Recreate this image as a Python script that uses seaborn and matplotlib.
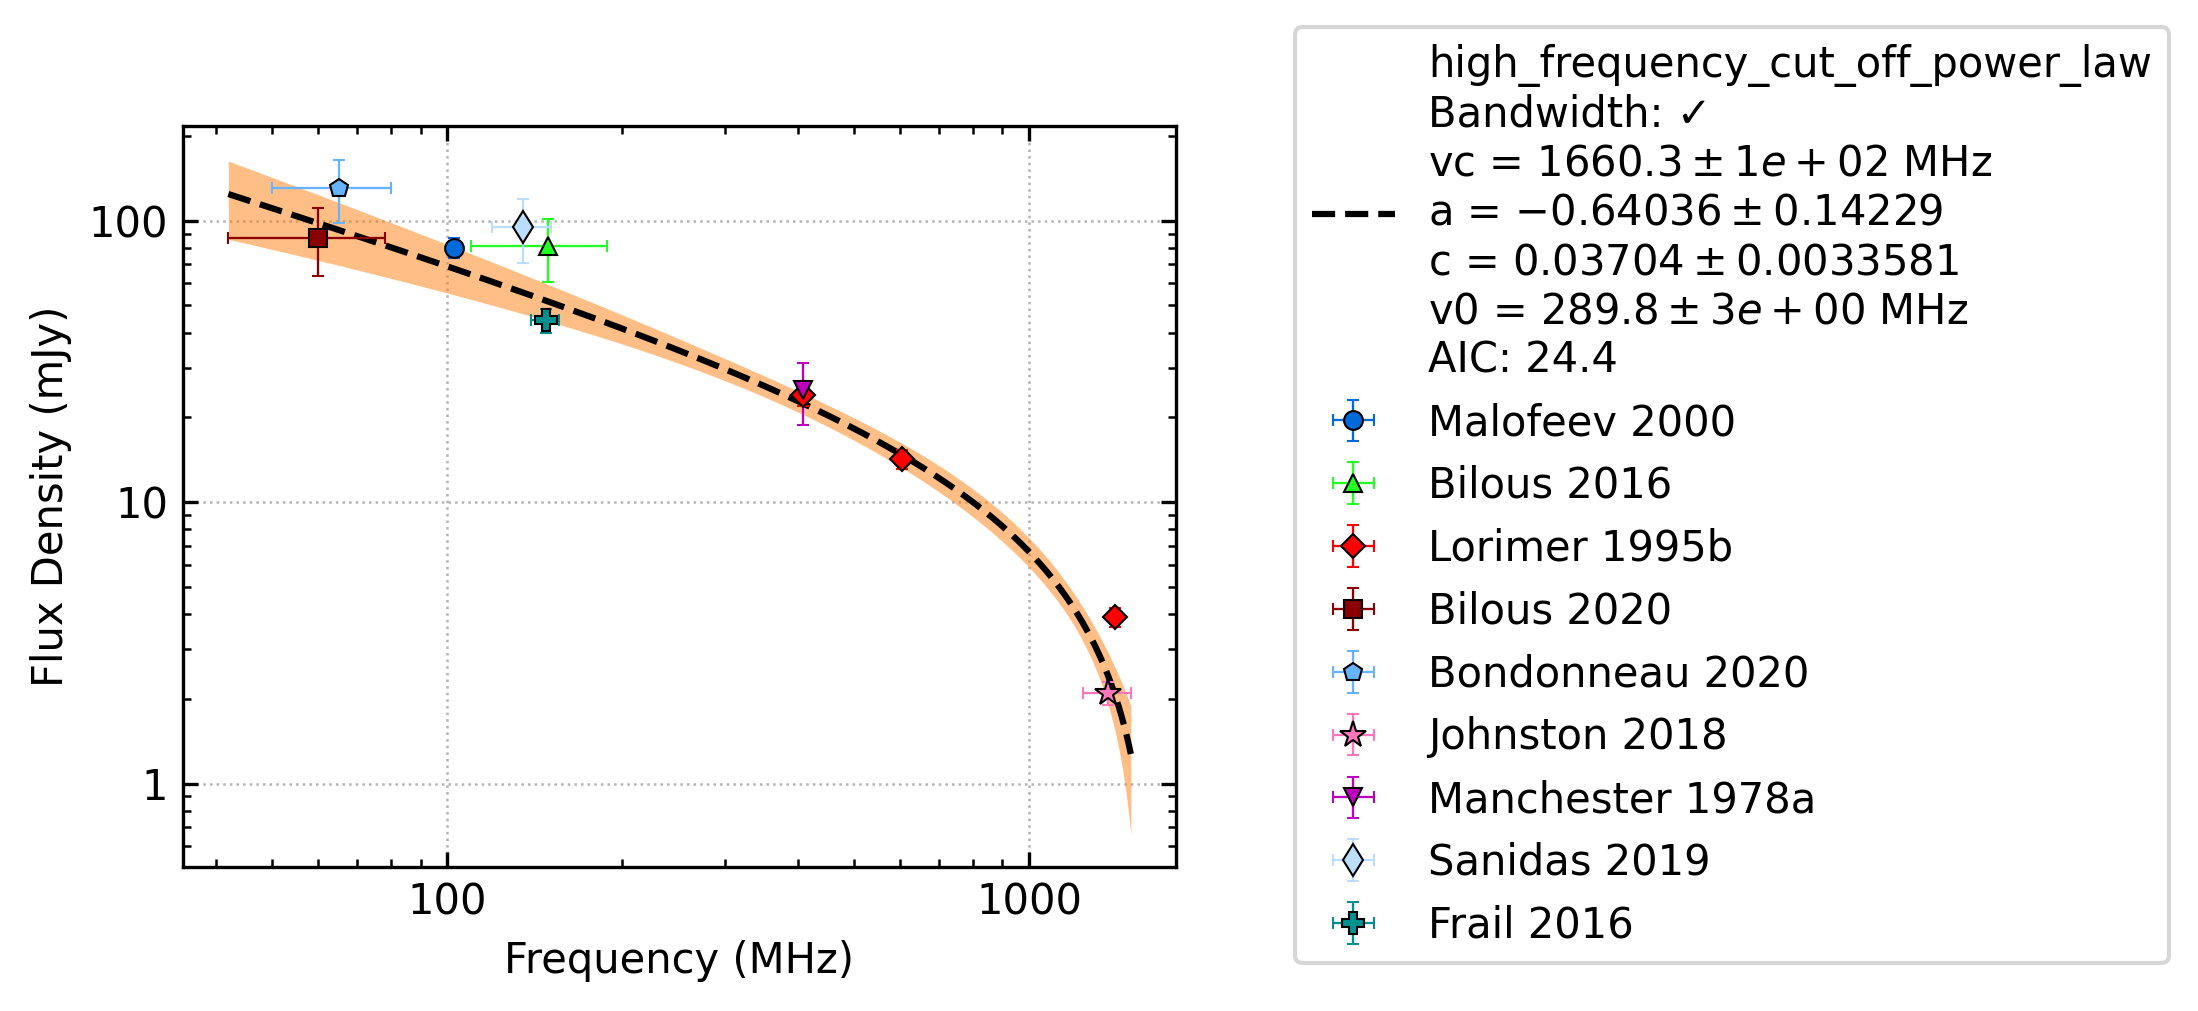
import numpy as np
import matplotlib
matplotlib.use("Agg")
import matplotlib.pyplot as plt
import seaborn as sns
from matplotlib.ticker import FuncFormatter, LogLocator, NullFormatter

# ---------------- data ----------------
labels = ["Malofeev 2000", "Bilous 2016", "Lorimer 1995b", "Bilous 2020",
          "Bondonneau 2020", "Johnston 2018", "Manchester 1978a",
          "Sanidas 2019", "Frail 2016"]
freqs = [[102.5], [149.0], [408.0, 606.0, 1408.0], [60.0], [65.0],
         [1369.0], [408.0], [135.0], [147.5]]
fluxes = [[80.0], [81.0], [24.0, 14.2, 3.9], [87.0], [131.0],
          [2.1], [25.0], [95.0], [44.2]]
flux_errs = [[6.5], [20.4], [2.0, 1.1, 0.3], [23.6], [33.0],
             [0.2], [6.2], [24.0], [4.4]]
freq_errs = [[1.0], [39.0], [2.0, 3.0, 5.0], [18.0], [15.0],
             [128.0], [2.0], [15.6], [8.35]]
colors = ["#006ADB", "#22FF22", "#FF0000", "#8B0000", "#66B3FF",
          "#FF77BB", "#C000C0", "#BBDDFF", "#009090"]
markers = ["o", "^", "D", "s", "p", "*", "v", "d", "P"]

# fit parameters (high frequency cut-off power law), flux in Jy
fit_vc, fit_vc_err = 1660.3, 116.0
fit_a, fit_a_err = -0.64036, 0.14229
fit_c, fit_c_err = 0.03704, 0.0033581
fit_v0 = 289.8
fit_aic = 24.4
# estimated parameter correlations (vc, a, c)
fit_corr = [[1.0, -0.77, 0.0],
            [-0.77, 1.0, -0.23],
            [0.0, -0.23, 1.0]]

# ---------------- figure ----------------
sns.set_style("white")
plt.rcParams["font.family"] = ["DejaVu Sans"]
plt.rcParams["mathtext.fontset"] = "dejavusans"

W, H = 2198, 1011
fig = plt.figure(figsize=(W / 300, H / 300), dpi=300)
ax = fig.add_axes([183 / W, 1 - 867 / H, (1176 - 183) / W, (867 - 126) / H])

# fitted curve and its uncertainty band
all_f = np.concatenate([np.array(f) for f in freqs])
all_fe = np.concatenate([np.array(f) for f in freq_errs])
fmin = np.min(all_f - all_fe)
fmax = np.max(all_f + all_fe)
fit_freq = np.logspace(np.log10(fmin), np.log10(fmax), 300)

def model(v, vc, a, c):
    return c * (v / fit_v0) ** a * (1 - v / vc) * 1000.0

fit_flux = model(fit_freq, fit_vc, fit_a, fit_c)
jac = np.vstack([
    fit_c * (fit_freq / fit_v0) ** fit_a * fit_freq / fit_vc ** 2 * 1000.0,
    fit_flux * np.log(fit_freq / fit_v0),
    fit_flux / fit_c,
])
sig = np.array([fit_vc_err, fit_a_err, fit_c_err])
cov = np.array(fit_corr) * np.outer(sig, sig)
fit_err = np.sqrt(np.einsum("in,ij,jn->n", jac, cov, jac))

ax.fill_between(fit_freq, fit_flux - fit_err, fit_flux + fit_err,
                facecolor="C1", alpha=0.5, linewidth=0, zorder=1)

fit_label = ("high_frequency_cut_off_power_law\n"
             "Bandwidth: \u2713\n"
             f"vc = ${fit_vc:.1f} \\pm 1e+02$ MHz\n"
             f"a = ${fit_a:.5f} \\pm {fit_a_err:.5f}$\n"
             f"c = ${fit_c:.5f} \\pm {fit_c_err:.7f}$\n"
             f"v0 = ${fit_v0:.1f} \\pm 3e+00$ MHz\n"
             f"AIC: {fit_aic:.1f}")
sns.lineplot(x=fit_freq, y=fit_flux, ax=ax, color="k", linestyle="--",
             linewidth=1.5, label=fit_label, zorder=3, sort=False)
fit_handle = ax.get_lines()[-1]
if ax.get_legend() is not None:
    ax.get_legend().remove()

handles = [fit_handle]
hlabels = [fit_label]
for lab, f, s, se, fe, col, mk in zip(labels, freqs, fluxes, flux_errs,
                                      freq_errs, colors, markers):
    ms = 4.5
    if mk == "*":
        ms = 6.5
    elif mk in ("D",):
        ms = 4.0
    elif mk == "d":
        ms = 5.5
    elif mk == "P":
        ms = 5.5
    eb = ax.errorbar(f, s, yerr=se, xerr=fe, fmt=mk, color=col,
                     markerfacecolor=col, markeredgecolor="k",
                     markeredgewidth=0.5, markersize=ms,
                     elinewidth=0.55, capsize=1.5, capthick=0.75, zorder=4,
                     label=lab)
    handles.append(eb)
    hlabels.append(lab)

ax.set_xscale("log")
ax.set_yscale("log")
ax.set_xlim(35.1, 1790)
ax.set_ylim(0.505, 217)

fmt = FuncFormatter(lambda v, p: f"{v:g}")
ax.xaxis.set_major_formatter(fmt)
ax.yaxis.set_major_formatter(fmt)
ax.xaxis.set_minor_formatter(NullFormatter())
ax.yaxis.set_minor_formatter(NullFormatter())
ax.xaxis.set_major_locator(LogLocator(base=10))
ax.yaxis.set_major_locator(LogLocator(base=10))
ax.xaxis.set_minor_locator(LogLocator(base=10, subs=np.arange(2, 10)))
ax.yaxis.set_minor_locator(LogLocator(base=10, subs=np.arange(2, 10)))

ax.tick_params(which="both", direction="in", top=True, right=True,
               bottom=True, left=True, colors="k", labelsize=10)
ax.tick_params(which="major", length=3.5, width=0.8)
ax.tick_params(which="minor", length=2.0, width=0.6)
for sp in ax.spines.values():
    sp.set_color("k")
    sp.set_linewidth(0.8)

ax.grid(True, which="major", linestyle=":", color="0.7", linewidth=0.6)

ax.set_xlabel("Frequency (MHz)", fontsize=10, color="k")
ax.set_ylabel("Flux Density (mJy)", fontsize=10, color="k")

leg = fig.legend(handles, hlabels, loc="upper left",
                 bbox_to_anchor=(1295 / W, 1 - 27 / H),
                 bbox_transform=fig.transFigure, borderaxespad=0,
                 fontsize=10, frameon=True, fancybox=True,
                 edgecolor="0.8", framealpha=0.8, labelspacing=0.5)
leg.get_frame().set_linewidth(1.0)
for t in leg.get_texts():
    t.set_color("k")
leg.get_texts()[0].set_linespacing(1.215)

fig.savefig("out.png", dpi=300)
